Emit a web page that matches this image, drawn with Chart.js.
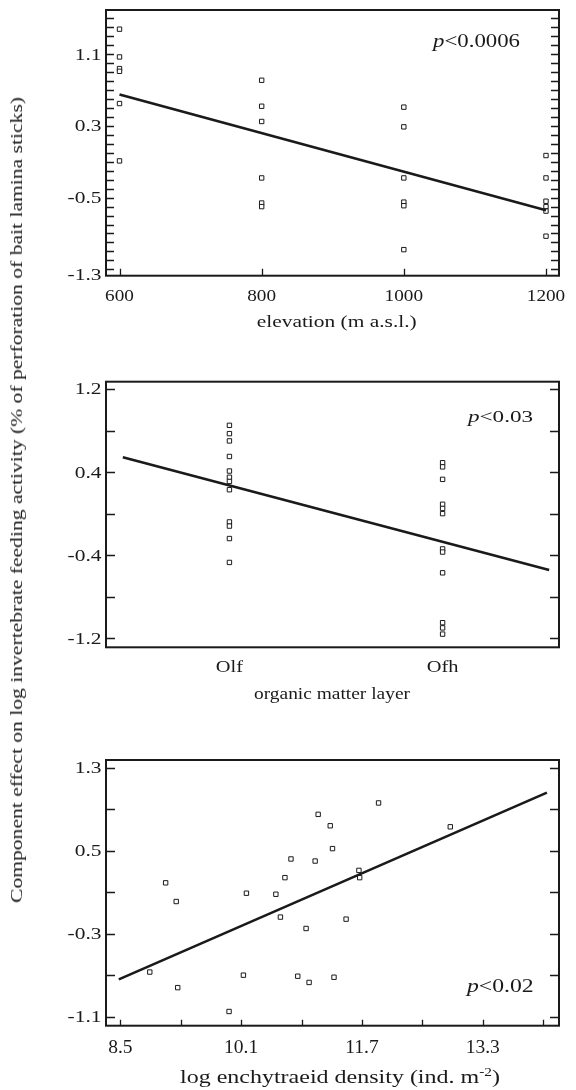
<!DOCTYPE html>
<html><head><meta charset="utf-8">
<script src="https://cdn.jsdelivr.net/npm/chart.js@4/dist/chart.umd.min.js"></script>
<style>
html,body{margin:0;padding:0;background:#fff;}
body{width:576px;height:1090px;position:relative;overflow:hidden;}
canvas{position:absolute;left:0;}
#ytitle{position:absolute;left:-333px;top:490px;width:700px;height:20px;line-height:20px;text-align:center;font-size:17px;font-family:"Liberation Serif";color:#1a1a1a;white-space:nowrap;transform:rotate(-90deg) scaleX(1.27);}
</style></head><body>
<canvas id="c1" width="576" height="350" style="top:0px"></canvas>
<canvas id="c2" width="576" height="370" style="top:350px"></canvas>
<canvas id="c3" width="576" height="370" style="top:720px"></canvas>
<div id="ytitle">Component effect on log invertebrate feeding activity (% of perforation of bait lamina sticks)</div>
<script>
// ---------- Panel 1: elevation ----------
const elevation = [600,600,600,600,600,600, 800,800,800,800,800,800, 1000,1000,1000,1000,1000,1000, 1200,1200,1200,1200,1200,1200];
const elevEffect = [1.38,1.07,0.94,0.91,0.55,-0.09, 0.81,0.52,0.35,-0.28,-0.56,-0.60, 0.51,0.29,-0.28,-0.55,-0.59,-1.08, -0.03,-0.28,-0.54,-0.60,-0.65,-0.93];
const elevFitX = [600, 1200];
const elevFitY = [0.65, -0.64];
const elevYTicks = [1.5,1.4,1.3,1.2,1.1,1.0,0.9,0.8,0.7,0.6,0.5,0.4,0.3,0.2,0.1,0.0,-0.1,-0.2,-0.3,-0.4,-0.5,-0.6,-0.7,-0.8,-0.9,-1.0,-1.1,-1.2,-1.3];
const elevYLabels = ['1.1','0.3','-0.5','-1.3'];
const elevXTicks = [600,800,1000,1200];
const elevXLabels = ['600','800','1000','1200'];

// ---------- Panel 2: organic matter layer ----------
const layers = ['Olf','Ofh'];
const olfEffect = [0.85,0.77,0.70,0.55,0.41,0.35,0.31,0.23,-0.08,-0.12,-0.24,-0.47];
const ofhEffect = [0.49,0.45,0.33,0.09,0.05,0.00,-0.34,-0.37,-0.57,-1.05,-1.10,-1.16];
const layerFitX = [-0.5, 1.5];
const layerFitY = [0.543, -0.542];
const layerYTicks = [1.2,0.8,0.4,0.0,-0.4,-0.8,-1.2];
const layerYLabels = ['1.2','0.4','-0.4','-1.2'];

// ---------- Panel 3: enchytraeid density ----------
const enchDensity = [8.89,9.10,9.24,9.26,9.94,10.13,10.17,10.56,10.62,10.68,10.76,10.85,10.96,11.00,11.08,11.12,11.28,11.31,11.33,11.49,11.66,11.67,11.92,12.87];
const enchEffect  = [-0.67,0.19,0.01,-0.82,-1.05,-0.70,0.09,0.08,-0.14,0.24,0.42,-0.71,-0.25,-0.77,0.40,0.85,0.74,0.52,-0.72,-0.16,0.31,0.24,0.96,0.73];
const enchFitX = [8.48, 14.15];
const enchFitY = [-0.74, 1.06];
const enchYTicks = [1.3,0.9,0.5,0.1,-0.3,-0.7,-1.1];
const enchYLabels = ['1.3','0.5','-0.3','-1.1'];
const enchXTicks = [8.5,9.3,10.1,10.9,11.7,12.5,13.3,14.1];
const enchXLabels = ['8.5','10.1','11.7','13.3'];

const INK = '#1a1a1a';
const FAMILY = '"Liberation Serif"';

function fontStr(size, italic){ return (italic?'italic ':'') + size + 'px ' + FAMILY; }

function drawRich(ctx, segs, x, y, align, opt){
  let total = 0;
  const widths = segs.map(s => { ctx.font = fontStr(s.size, s.italic); const w = ctx.measureText(s.t).width; total += w; return w; });
  const sx = opt.width ? opt.width / total : (opt.sx || 1);
  let start = x;
  if (align === 'center') start = x - total*sx/2;
  else if (align === 'right') start = x - total*sx;
  ctx.save();
  ctx.translate(start, y);
  ctx.scale(sx, 1);
  ctx.fillStyle = INK;
  ctx.textAlign = 'left';
  ctx.textBaseline = 'alphabetic';
  let cx = 0;
  segs.forEach((s,i) => { ctx.font = fontStr(s.size, s.italic); ctx.fillText(s.t, cx, s.dy || 0); cx += widths[i]; });
  ctx.restore();
}

const decoPlugin = {
  id: 'deco',
  afterDraw(chart, args, o){
    const ctx = chart.ctx, a = chart.chartArea, xs = chart.scales.x, ys = chart.scales.y;
    ctx.save();
    ctx.strokeStyle = INK;
    // tick marks (inward)
    ctx.lineWidth = 1.3;
    ctx.beginPath();
    (o.yTicks||[]).forEach(v => {
      const p = Math.round(ys.getPixelForValue(v)) + 0.5;
      ctx.moveTo(a.left, p); ctx.lineTo(a.left + o.tickLen, p);
      ctx.moveTo(a.right, p); ctx.lineTo(a.right - o.tickLen, p);
    });
    (o.xTicks||[]).forEach(v => {
      const p = Math.round(xs.getPixelForValue(v)) + 0.5;
      ctx.moveTo(p, a.bottom); ctx.lineTo(p, a.bottom - o.xTickLen);
    });
    ctx.stroke();
    // frame
    ctx.lineWidth = 2;
    ctx.strokeRect(a.left, a.top, a.right - a.left, a.bottom - a.top);
    ctx.restore();
    // y labels
    (o.yLabels||[]).forEach(l => {
      const p = ys.getPixelForValue(parseFloat(l)) + (o.yNudge && o.yNudge[l] || 0);
      drawRich(ctx, [{t:l, size:o.yLabelSize}], a.left - 4.5, p + o.yLabelSize*0.33, 'right', {sx:o.yLabelSx});
    });
    // x labels
    (o.xLabels||[]).forEach((l,i) => {
      const v = o.xLabelValues ? o.xLabelValues[i] : parseFloat(l);
      drawRich(ctx, [{t:l, size:o.xLabelSize}], xs.getPixelForValue(v), a.bottom + o.xLabelDy, 'center', {sx:o.xLabelSx});
    });
    // axis title
    drawRich(ctx, o.title, o.titleX, a.bottom + o.titleDy, 'center', {width:o.titleWidth});
    // p annotation
    drawRich(ctx, o.pText, o.pX, o.pY, 'left', {width:o.pWidth});
  }
};

function makeChart(id, points, fit, xr, yr, pad, deco){
  return new Chart(document.getElementById(id), {
    type: 'scatter',
    data: { datasets: [
      { type:'line', data: fit, borderColor: INK, borderWidth: 2.6, pointRadius: 0, fill:false, tension:0 },
      { data: points, pointStyle:'rect', pointRadius: 3.1, pointHoverRadius: 3.1, borderWidth: 1, borderColor: INK, backgroundColor:'#fff' }
    ]},
    options: {
      responsive:false, animation:false, events:[],
      layout:{ padding: pad },
      plugins:{ legend:{display:false}, tooltip:{enabled:false}, deco: deco },
      scales:{
        x:{ type:'linear', display:false, min:xr[0], max:xr[1] },
        y:{ type:'linear', display:false, min:yr[0], max:yr[1] }
      }
    },
    plugins:[decoPlugin]
  });
}

// Panel 1
makeChart('c1',
  elevation.map((x,i)=>({x, y:elevEffect[i]})),
  elevFitX.map((x,i)=>({x, y:elevFitY[i]})),
  [581, 1218.3], [-1.371, 1.594],
  {left:106, right:17, top:10, bottom:74.3},
  { yTicks: elevYTicks, xTicks: elevXTicks, tickLen:8, xTickLen:7,
    yLabels: elevYLabels, yLabelSize:16.5, yLabelSx:1.3, yNudge:{'-1.3':5},
    xLabels: elevXLabels, xLabelSize:17, xLabelSx:1.13, xLabelDy:25,
    title:[{t:'elevation (m a.s.l.)', size:17}], titleX:336.7, titleDy:51.6, titleWidth:160,
    pText:[{t:'p', size:19.5, italic:true},{t:'<0.0006', size:19.5}], pX:433, pY:46.7, pWidth:87 });

// Panel 2
const layerPoints = olfEffect.map(y=>({x:0, y})).concat(ofhEffect.map(y=>({x:1, y})));
makeChart('c2',
  layerPoints,
  layerFitX.map((x,i)=>({x, y:layerFitY[i]})),
  [-0.579, 1.546], [-1.287, 1.270],
  {left:106, right:17, top:31.7, bottom:72.7},
  { yTicks: layerYTicks, xTicks: [], tickLen:9, xTickLen:0,
    yLabels: layerYLabels, yLabelSize:16.5, yLabelSx:1.3,
    xLabels: layers, xLabelValues:[0,1], xLabelSize:17, xLabelSx:1.2, xLabelDy:25,
    title:[{t:'organic matter layer', size:17}], titleX:332, titleDy:51.7, titleWidth:156,
    pText:[{t:'p', size:17.5, italic:true},{t:'<0.03', size:17.5}], pX:468, pY:71.7, pWidth:65 });

// Panel 3
makeChart('c3',
  enchDensity.map((x,i)=>({x, y:enchEffect[i]})),
  enchFitX.map((x,i)=>({x, y:enchFitY[i]})),
  [8.31, 14.31], [-1.187, 1.374],
  {left:106, right:17, top:40, bottom:64.3},
  { yTicks: enchYTicks, xTicks: enchXTicks, tickLen:9, xTickLen:6,
    yLabels: enchYLabels, yLabelSize:16.5, yLabelSx:1.3,
    xLabels: enchXLabels, xLabelSize:19.5, xLabelSx:1.0, xLabelDy:27.5,
    title:[{t:'log enchytraeid density (ind. m', size:19.5},{t:'-2', size:12.5, dy:-7},{t:')', size:19.5}], titleX:340, titleDy:57.5, titleWidth:320,
    pText:[{t:'p', size:19, italic:true},{t:'<0.02', size:19}], pX:467, pY:271.7, pWidth:66.7 });
</script>
</body></html>
